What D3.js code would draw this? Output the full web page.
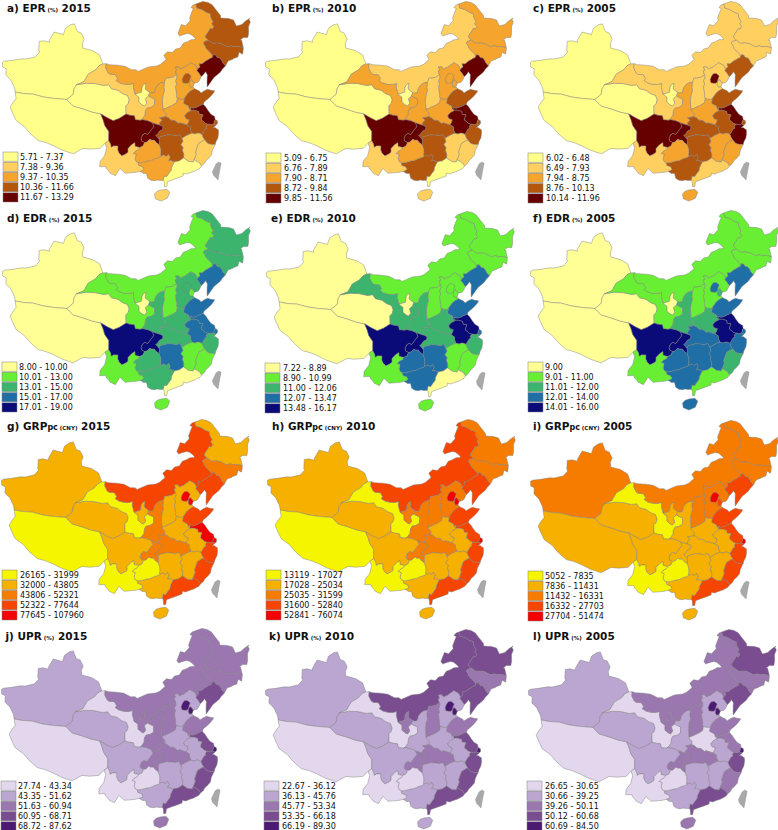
<!DOCTYPE html>
<html>
<head>
<meta charset="utf-8">
<script src="https://cdnjs.cloudflare.com/ajax/libs/d3/7.8.5/d3.min.js"></script>
<style>
  html, body { margin: 0; padding: 0; background: #fff; }
  text { font-family: "DejaVu Sans", sans-serif; fill: #111; }
</style>
</head>
<body>
<svg id="chart" width="778" height="830"></svg>
<script>
"use strict";

// province order used by every value array below
const provinces = ["XJ","XZ","QH","GS","NM","HL","JL","LN","HE","BJ","TJ","SX","SD","HA","SN","NX","JS","SH","ZJ","AH","JX","FJ","HB","HN","GD","GX","HI","CQ","SC","GZ","YN"];

// class (0-4) of each province
const epr2015 = [0,0,0,1,2,3,3,4,2,3,2,1,3,2,2,0,4,3,3,3,1,1,3,3,0,2,1,4,4,2,1];
const epr2010 = [0,0,0,2,1,2,2,4,2,2,2,1,3,2,2,0,4,3,3,4,1,1,3,3,0,3,1,4,4,2,1];
const epr2005 = [0,0,0,1,1,1,1,3,1,4,1,1,3,2,2,0,4,3,4,3,2,2,3,3,1,3,2,4,4,2,1];
const edr2015 = [0,0,0,1,1,2,2,3,2,2,1,1,3,2,2,0,3,3,2,3,1,1,2,3,0,2,1,4,4,2,1];
const edr2010 = [0,0,0,2,1,1,1,3,1,1,1,1,3,2,2,0,4,3,2,4,1,1,2,3,0,3,1,4,4,3,1];
const edr2005 = [0,0,0,1,1,1,1,3,1,3,2,1,3,2,2,0,4,3,3,4,3,2,3,3,1,3,3,4,4,3,1];
const grp2015 = [1,0,1,0,3,1,2,3,1,4,4,1,3,1,2,1,4,4,3,1,1,3,2,1,3,1,1,2,1,0,0];
const grp2010 = [1,0,1,0,3,2,2,3,2,4,4,2,3,1,2,2,3,4,3,1,1,3,2,1,3,1,1,2,1,0,0];
const grp2005 = [2,1,1,0,2,2,2,3,2,4,3,2,3,1,1,1,3,4,3,1,1,3,1,1,3,1,1,1,1,0,0];
const upr2015 = [1,0,1,0,2,2,2,3,1,4,4,2,2,1,2,2,3,4,3,1,1,3,2,1,3,1,2,2,1,0,0];
const upr2010 = [1,0,1,0,3,3,2,3,1,4,4,2,2,1,1,2,3,4,3,1,1,3,2,1,3,1,1,2,1,0,0];
const upr2005 = [1,0,1,0,2,3,2,3,1,4,4,2,2,0,1,2,2,4,3,1,1,2,2,1,3,1,2,2,1,0,0];

// legend labels
const eprLabels2015 = ["5.71 - 7.37","7.38 - 9.36","9.37 - 10.35","10.36 - 11.66","11.67 - 13.29"];
const eprLabels2010 = ["5.09 - 6.75","6.76 - 7.89","7.90 - 8.71","8.72 - 9.84","9.85 - 11.56"];
const eprLabels2005 = ["6.02 - 6.48","6.49 - 7.93","7.94 - 8.75","8.76 - 10.13","10.14 - 11.96"];
const edrLabels2015 = ["8.00 - 10.00","10.01 - 13.00","13.01 - 15.00","15.01 - 17.00","17.01 - 19.00"];
const edrLabels2010 = ["7.22 - 8.89","8.90 - 10.99","11.00 - 12.06","12.07 - 13.47","13.48 - 16.17"];
const edrLabels2005 = ["9.00","9.01 - 11.00","11.01 - 12.00","12.01 - 14.00","14.01 - 16.00"];
const grpLabels2015 = ["26165 - 31999","32000 - 43805","43806 - 52321","52322 - 77644","77645 - 107960"];
const grpLabels2010 = ["13119 - 17027","17028 - 25034","25035 - 31599","31600 - 52840","52841 - 76074"];
const grpLabels2005 = ["5052 - 7835","7836 - 11431","11432 - 16331","16332 - 27703","27704 - 51474"];
const uprLabels2015 = ["27.74 - 43.34","43.35 - 51.62","51.63 - 60.94","60.95 - 68.71","68.72 - 87.62"];
const uprLabels2010 = ["22.67 - 36.12","36.13 - 45.76","45.77 - 53.34","53.35 - 66.18","66.19 - 89.30"];
const uprLabels2005 = ["26.65 - 30.65","30.66 - 39.25","39.26 - 50.11","50.12 - 60.68","60.69 - 84.50"];

const eprColors = ["#ffff8a","#ffd060","#f5a42e","#b3570f","#660000"];
const edrColors = ["#ffff96","#68ee33","#3cb46e","#1f6fa6","#0a0a78"];
const grpColors = ["#f5f500","#f5b000","#f67c00","#f54500","#f50000"];
const uprColors = ["#e3d7ee","#baa6d1","#9b77b0","#7a4d90","#4d1a73"];

// shared province borders, lon/lat. "-name" in a ring walks the border backwards
const borders = {
  xj_out: [[96.4,42.7],[95.4,44.3],[93.5,44.95],[91,45.2],[90.7,46],[91,46.9],[90,47.9],[88.9,48.1],[87.8,49.4],[86.8,49.1],[85.7,48.3],[85.5,47.1],[83,47.2],[82.3,45.5],[82.5,45.2],[81,45.2],[79.9,44.9],[80.4,43.2],[80.7,43.1],[80,42],[78,41.2],[76.9,41],[75,40.3],[73.2,39.7],[72.9,39.4],[73.3,38.6],[74.2,38.5],[74.6,37.4],[76,36.8],[77.3,35.6],[77.7,34.9]],
  xj_xz: [[77.7,34.9],[79.5,35],[81.6,35.3],[84,35.2],[86.5,35.3],[89.2,35.5]],
  xj_qh: [[89.2,35.5],[90.4,36.6],[90.4,37.6],[90.8,38.4]],
  xj_gs: [[90.8,38.4],[92.4,39.1],[93.2,40.6],[94.8,41.5],[95.5,42.3],[96.4,42.7]],
  xz_out: [[77.7,34.9],[78.3,33.8],[77.9,33],[77.6,32],[78.5,31],[79.6,29.9],[81.5,29.2],[83,28.2],[84.9,27.2],[86.5,27.1],[88,26.8],[90,26.2],[92.2,25.8],[93.2,26.5],[94,27],[95.5,27],[97.4,27.3],[98.3,28.3]],
  xz_yn: [[98.3,28.3],[98.7,28.6],[99,28.8]],
  xz_sc: [[99,28.8],[98.9,30.5],[98,31.5],[97.5,32.6],[96.9,33.6]],
  xz_qh: [[96.9,33.6],[95,33.8],[93,34.2],[90.8,34.5],[89.2,35.5]],
  qh_sc: [[96.9,33.6],[98.3,33],[99.7,32.5],[101,33],[102.4,33.8]],
  qh_gs: [[102.4,33.8],[102.3,35.3],[102.8,35.7],[103,36.4],[102.6,37.2],[101.5,37.5],[100.4,38.1],[98.9,38.3],[98.2,39],[97,38.8],[95,39],[93,38.9],[90.8,38.4]],
  gs_out: [[97.2,42.8],[96.4,42.7]],
  gs_sc: [[105.5,32.7],[104.4,32.8],[104.2,33.5],[103.2,33.6],[102.4,33.8]],
  gs_sn: [[107.3,37.1],[108.7,36.5],[108.6,35.4],[107.8,35],[107,34.9],[106.6,34.4],[106.5,33.6],[105.9,32.9],[105.5,32.7]],
  gs_nx: [[104.3,37.45],[105.2,36.9],[105.2,36],[105.9,35.5],[106.4,35.3],[106.9,35.8],[106.6,36.6],[107.3,37.1]],
  gs_nm: [[97.2,42.8],[97.2,42],[97.9,41.1],[98.4,40.9],[99.6,40.9],[100.2,40.2],[99.9,39.8],[100.8,39.4],[102,39.2],[103,39.2],[104,39.4],[103.9,38.7],[104.2,37.8],[104.3,37.45]],
  nx_sn: [[107.3,37.1],[107.6,37.75]],
  nx_nm: [[104.3,37.45],[105,37.6],[105.8,37.8],[105.9,38.7],[106.3,39.2],[106.8,39.4],[106.6,38.4],[107,38.1],[107.6,37.75]],
  sn_nm: [[107.6,37.75],[108.1,37.6],[108.7,37.7],[109,38.5],[109.6,39.1],[110.3,39.4],[111.1,39.5]],
  sn_sx: [[110.4,34.6],[110.4,35.4],[110.4,36.2],[110.6,37.1],[111,38],[110.9,38.5],[111.1,39.5]],
  sc_sn: [[105.5,32.7],[106,32.8],[107,32.6],[107.3,32.5],[108,32.2]],
  cq_sn: [[108,32.2],[108.9,31.9],[109.6,31.7]],
  hb_sn: [[110.9,33.2],[110.1,33.1],[109.6,33.1],[110.1,32.6],[109.5,32.1],[109.6,31.7]],
  ha_sn: [[110.9,33.2],[111,33.8],[110.5,34.3],[110.4,34.6]],
  sc_yn: [[99,28.8],[99.4,28.2],[99.6,27.6],[100.1,27.9],[100.9,27.9],[100.9,27.2],[101.2,26.6],[101.8,26.1],[102.6,26.5],[103,26.8],[103,27.5],[103.7,28.2],[104.3,28.6],[104.4,27.9],[105.3,27.7]],
  sc_gz: [[105.3,27.7],[106,28],[106.3,28.6]],
  sc_cq: [[106.3,28.6],[105.7,28.9],[105.6,29.4],[105.9,30],[106.4,30.3],[107,30.1],[107.7,30.9],[108.3,31.5],[108,32.2]],
  cq_hb: [[109.6,31.7],[110.2,31.4],[110.1,30.9],[109.4,30.6],[108.9,30],[108.6,29.9],[109.3,29.1]],
  cq_hn: [[109.3,29.1],[109.3,28.6],[109.2,28.2]],
  cq_gz: [[109.2,28.2],[108.7,28.5],[108.3,29],[107.8,29],[107.4,29.2],[106.8,28.7],[106.3,28.6]],
  gz_hn: [[109.2,28.2],[109.5,27.4],[109.5,26.7],[109.4,26.2],[109.5,26]],
  gz_gx: [[109.5,26],[109.1,25.8],[108.3,25.6],[107.6,25.3],[106.9,25.2],[106.1,25],[105.5,24.9],[105,24.9]],
  gz_yn: [[105,24.9],[104.6,25.1],[104.4,25.6],[104.6,26.4],[104,26.6],[104.4,27],[105,27.3],[105.3,27.7]],
  yn_out: [[98.3,28.3],[98.7,27.5],[98.4,26],[97.6,24.9],[97.6,23.9],[98.8,24],[98.9,23.6],[99.3,23.3],[99.7,22.8],[100.7,22.4],[101.5,23.8],[102.5,22.9],[103.5,23],[104.6,23.1],[105.4,23.3]],
  yn_gx: [[105.4,23.3],[106.1,23.6],[105.9,24.1],[105.1,24.4],[105,24.9]],
  gx_out: [[105.4,23.3],[106,22.9],[106.6,22.9],[106.8,22],[107.4,21.6],[108,21.5],[108.6,21.6],[109.1,21.5],[109.7,21.5]],
  gx_gd: [[109.7,21.5],[109.9,22.3],[110.4,22.2],[110.7,22.6],[111.3,23.3],[111.4,23.8],[112,24.8]],
  gx_hn: [[109.5,26],[110,26.2],[110.6,25.9],[111,26.3],[111.3,25.7],[110.9,25.1],[111.4,25.1],[112,24.8]],
  hn_gd: [[112,24.8],[112.7,24.9],[113,24.9],[113.9,25.4]],
  hn_jx: [[113.9,25.4],[114,26.1],[113.8,26.9],[114,27.3],[113.6,27.9],[114.1,28.5],[113.9,29.05]],
  hb_hn: [[109.3,29.1],[109.5,29.6],[110.6,29.8],[111,29.9],[112,29.8],[112.9,29.6],[113.6,29.8],[113.9,29.05]],
  hb_jx: [[113.9,29.05],[114.9,29.5],[115.9,29.8],[116.1,29.8]],
  hb_ah: [[116.1,29.8],[115.9,30.4],[115.9,31],[115.3,31.4]],
  hb_ha: [[115.3,31.4],[114.5,31.7],[113.9,31.9],[113.5,31.8],[112.8,32.4],[112,32.5],[111.5,33],[110.9,33.2]],
  ha_sx: [[110.4,34.6],[111,34.7],[111.6,34.9],[112.6,35.2],[113.5,35.6],[113.6,35.8],[113.8,36.4]],
  ha_he: [[113.8,36.4],[114.2,36.2],[114.9,36.1],[115.3,36.1]],
  ha_sd: [[115.3,36.1],[115,35.4],[116,34.8],[116.1,34.4]],
  ha_ah: [[116.1,34.4],[116.5,33.9],[115.6,33.6],[115,33.1],[115.2,32.6],[115.9,32.3],[115.7,31.9],[115.3,31.4]],
  sx_nm: [[111.1,39.5],[111.3,39.7],[111.5,40.2],[112.3,40.2],[113.3,40.3],[114.1,40.7]],
  sx_he: [[114.1,40.7],[114.1,40.1],[113.7,39.6],[113.9,39],[113.6,38.6],[113.6,37.9],[113.7,37.1],[113.6,36.6],[113.8,36.4]],
  sd_he: [[117.9,37.8],[117,37.5],[116.4,37.2],[115.7,36.6],[115.3,36.2],[115.3,36.1]],
  he_c1: [[117.9,37.8],[117.6,38.2]],
  he_tj: [[117.6,38.2],[117,38.2],[116.8,38.7],[117,39.2],[117.3,39.5],[117.6,39.4],[117.8,39.1],[118,38.8]],
  tj_c: [[117.6,38.2],[117.8,38.5],[118,38.8]],
  he_c2: [[118,38.8],[118.9,38.9],[119.3,39.2],[119.8,39.8]],
  he_ln: [[119.8,39.8],[119.4,40.5],[119,41],[119.2,41.3]],
  he_nm: [[119.2,41.3],[118.9,42],[117.8,42.6],[117.4,42.4],[116.9,42.2],[116,41.8],[115.9,41.9],[115.3,41.6],[114.9,41.9],[114.8,42.1],[114,42.1],[114.3,41.5],[113.9,41.4],[114,40.9],[114.1,40.7]],
  sd_ah: [[116.1,34.4],[116.4,34.5]],
  sd_js: [[116.4,34.5],[117,34.3],[117.8,34.4],[118.4,34.6],[119.3,34.8]],
  sd_c: [[119.3,34.8],[119.6,35.2],[120.4,35.6],[121.3,36.1],[122,36.6],[122.3,36.9],[121.5,37.1],[120.8,37.4],[120,37.2],[119.2,36.9],[118.9,37.3],[117.9,37.8]],
  js_c: [[121.3,31.7],[121.3,32.3],[120.6,32.8],[120.1,33.6],[119.8,34.2],[119.3,34.8]],
  sh_js: [[120.9,31],[121.1,31.5],[121.3,31.7]],
  sh_c: [[121.3,31.7],[121.7,31.5],[121.7,31],[121.3,30.7]],
  zj_sh: [[121.3,30.7],[121,30.8],[120.9,31]],
  zj_js: [[120.9,31],[120.4,30.9],[119.6,31.1]],
  js_ah: [[116.4,34.5],[116.5,34],[117.3,33.9],[118.1,33.6],[118.1,33.1],[118.9,32.9],[118.6,32.5],[118.4,32],[118.9,31.6],[119.1,31.3],[119.6,31.1]],
  zj_ah: [[119.6,31.1],[119.2,30.7],[119.3,30.4],[118.9,30.3],[118.3,29.6],[118.1,29.4]],
  ah_jx: [[118.1,29.4],[117.4,29.7],[116.7,29.6],[116.1,29.8]],
  zj_jx: [[118.1,29.4],[118.2,28.9],[118.5,28.3]],
  zj_fj: [[118.5,28.3],[119,27.6],[119.7,27.3],[120.45,27.2]],
  zj_c: [[120.45,27.2],[120.7,27.7],[121.2,28.3],[121.5,29.1],[121.6,29.8],[121.3,30],[121,30.3],[120.6,30.3],[121.3,30.7]],
  jx_fj: [[118.5,28.3],[117.9,28.1],[117.2,27.8],[116.8,27.1],[116.4,26.3],[116.5,25.9],[116,25],[115.9,24.9]],
  jx_gd: [[115.9,24.9],[115.7,24.5],[114.8,24.7],[114.3,25.1],[113.9,25.4]],
  fj_gd: [[115.9,24.9],[116.5,24.5],[116.9,24.2],[117.2,23.6]],
  fj_c: [[120.45,27.2],[120,26.6],[119.7,26.2],[119.4,25.4],[118.7,24.8],[118.2,24.5],[117.8,24],[117.2,23.6]],
  gd_c: [[117.2,23.6],[116.8,23.2],[115.8,22.8],[114.9,22.6],[114.2,22.4],[113.6,22.6],[113.5,22.1],[112.5,21.8],[111.4,21.5],[110.5,21.2],[110.3,20.3],[109.9,20.3],[109.9,21.2],[109.7,21.5]],
  ln_c: [[119.8,39.8],[120.5,40.2],[121,40.6],[121.3,40],[121.1,39.3],[120.9,38.5],[120.8,37.8],[121.8,38.6],[122.7,39.3],[124.4,40.05],[125,40.5],[125.9,41]],
  ln_jl: [[125.9,41],[125.4,41.7],[125.3,42.1],[125,42.6],[124.4,42.8],[124.1,43.3],[123.6,43.4],[123.3,43]],
  ln_nm: [[119.2,41.3],[119.9,41.6],[119.8,42.2],[120.5,42.1],[121.4,42.5],[122.2,42.7],[122.4,42.8],[123.3,43]],
  jl_nm: [[123.3,43],[123.3,43.5],[122.6,44.3],[122.1,44.8],[122,45.3],[121.7,45.8],[122,46.1],[123.1,46.2]],
  jl_hl: [[123.1,46.2],[124,45.5],[125.2,45.4],[126.2,45.1],[127,44.6],[127.6,44.3],[128.4,44.4],[129,44.1],[129.8,44],[130.5,43.8],[131.2,43.5]],
  jl_out: [[125.9,41],[126.6,41.6],[126.9,41.8],[128,41.9],[128.1,42],[129.3,42.1],[129.9,42.9],[130.6,42.4],[130.9,42.9],[131.2,43.5]],
  hl_out: [[131.2,43.5],[131.3,44.9],[131,45],[131.9,45.3],[133,45.1],[133.5,45.8],[134,47],[134.8,47.7],[134.7,48.3],[135.08,48.45],[133.5,48.1],[132.5,47.7],[131,47.7],[130.7,48.9],[129.5,49.4],[127.5,49.8],[127.6,50.3],[126.9,51.3],[126,52.6],[125,53.2],[123.6,53.55],[122.3,53.4],[121.5,53.3]],
  hl_nm: [[121.5,53.3],[121.6,52.5],[122.9,52.1],[124,51.4],[125,51],[124.9,50.3],[125.3,49.4],[124.8,49.1],[125.2,48.5],[124.6,48.1],[124.2,48.3],[123.7,47.9],[122.6,47.1],[122.5,46.8],[123.1,46.2]],
  nm_out: [[121.5,53.3],[120.7,53.2],[120,52.8],[120.6,52.5],[120.1,52],[119.2,50.9],[119.2,50.3],[117.8,49.5],[116.7,49.8],[115.5,48.2],[115.9,47.7],[116.8,47.9],[118,48],[118.8,47.8],[119.8,47],[119.8,46.7],[118.7,46.8],[117.7,46.5],[116.6,46.3],[115.7,45.5],[114.5,45.4],[113.6,44.8],[112.4,45],[111.4,44.4],[111.9,43.6],[110.5,42.8],[109.5,42.5],[107.5,42.4],[105,41.6],[104.5,41.9],[103.4,41.9],[101.8,42.5],[100,42.65],[98,42.65],[97.2,42.8]]
};

// which borders close each province
const rings = {
  XJ: ["xj_out","xj_xz","xj_qh","xj_gs"],
  XZ: ["xz_out","xz_yn","xz_sc","xz_qh","-xj_xz"],
  QH: ["xj_qh","-qh_gs","-qh_sc","xz_qh"],
  GS: ["-xj_gs","-qh_gs","-gs_sc","-gs_sn","-gs_nx","-gs_nm","gs_out"],
  NM: ["nm_out","gs_nm","nx_nm","sn_nm","sx_nm","-he_nm","ln_nm","jl_nm","-hl_nm"],
  HL: ["jl_hl","hl_out","hl_nm"],
  JL: ["ln_jl","jl_nm","jl_hl","-jl_out"],
  LN: ["ln_c","ln_jl","-ln_nm","-he_ln"],
  HE: ["ha_he","-sd_he","he_c1","he_tj","he_c2","he_ln","he_nm","sx_he"],
  TJ: ["he_tj","-tj_c"],
  SX: ["sn_sx","sx_nm","sx_he","-ha_sx"],
  SD: ["ha_sd","sd_ah","sd_js","sd_c","sd_he"],
  HA: ["hb_ha","ha_sn","ha_sx","ha_he","ha_sd","ha_ah"],
  SN: ["gs_sn","sc_sn","cq_sn","-hb_sn","ha_sn","sn_sx","-sn_nm","-nx_sn"],
  NX: ["gs_nx","nx_sn","-nx_nm"],
  JS: ["sd_js","-js_c","-sh_js","zj_js","-js_ah"],
  SH: ["sh_js","sh_c","zj_sh"],
  ZJ: ["zj_ah","zj_jx","zj_fj","zj_c","zj_sh","zj_js"],
  AH: ["sd_ah","js_ah","zj_ah","ah_jx","hb_ah","-ha_ah"],
  JX: ["ah_jx","-hb_jx","-hn_jx","-jx_gd","-jx_fj","-zj_jx"],
  FJ: ["jx_fj","fj_gd","-fj_c","-zj_fj"],
  HB: ["hb_hn","hb_jx","hb_ah","hb_ha","hb_sn","cq_hb"],
  HN: ["gz_hn","gx_hn","hn_gd","hn_jx","-hb_hn","cq_hn"],
  GD: ["jx_gd","-hn_gd","-gx_gd","-gd_c","-fj_gd"],
  GX: ["gx_out","gx_gd","-gx_hn","gz_gx","-yn_gx"],
  CQ: ["sc_cq","cq_sn","cq_hb","cq_hn","cq_gz"],
  SC: ["-xz_sc","sc_yn","sc_gz","sc_cq","-sc_sn","gs_sc","-qh_sc"],
  GZ: ["sc_gz","-cq_gz","gz_hn","gz_gx","gz_yn"],
  YN: ["yn_out","yn_gx","gz_yn","-sc_yn","-xz_yn"]
};

// enclosed or island shapes with no shared border
const loose = {
  BJ: [[116,39],[115.4,39.1],[115.3,39.7],[115.7,40.3],[116.2,40.7],[116.9,40.7],[117.5,40.2],[117.1,39.6],[116.9,39.2],[116.5,38.95],[116,39]],
  HI: [[108,19],[108.1,18.1],[109.1,17.6],[110.3,18.1],[110.8,19.2],[110.3,19.8],[109.2,19.7],[108.5,19.5],[108,19]],
  TW: [[120.6,23.9],[121,23.6],[120.6,22.6],[119.9,20.6],[119.2,21.6],[119.1,22.3],[120,23.6],[120.6,23.9]]
};

function buildRing(names) {
  let pts = [];
  names.forEach(n => {
    let rev = n[0] === "-";
    let arc = borders[rev ? n.slice(1) : n];
    pts = pts.concat(rev ? arc.slice().reverse() : arc);
  });
  pts.push(pts[0]);
  return pts;
}

function feature(id) {
  let ring = loose[id] || buildRing(rings[id]);
  let f = {type:"Feature", id:id, geometry:{type:"Polygon", coordinates:[ring]}};
  if (d3.geoArea(f) > 2 * Math.PI) f.geometry.coordinates = [ring.slice().reverse()]; // winding
  return f;
}

// HE before BJ and TJ so the small ones sit on top
const drawOrder = provinces.slice().sort((a, b) => (a === "BJ" || a === "TJ" ? 1 : 0) - (b === "BJ" || b === "TJ" ? 1 : 0));
const features = drawOrder.map(feature);
const taiwan = feature("TW");

const xStretch = 1.05;
const projection = d3.geoConicEqualArea().parallels([25, 47]).rotate([-105, 0]).scale(309).translate([0, 0]);
const anchor = projection([122.8, 53.55]);
projection.translate([200 / xStretch - anchor[0], 2 - anchor[1]]);
const path = d3.geoPath(projection);

const panels = [
  {tag:"a)", name:"EPR", unit:"(%)", year:"2015", vals:epr2015, labels:eprLabels2015, colors:eprColors, dx:0, dy:0, tx:7, ty:12, lx:3, ly:156, ltx:20},
  {tag:"b)", name:"EPR", unit:"(%)", year:"2010", vals:epr2010, labels:eprLabels2010, colors:eprColors, dx:263, dy:0, tx:272, ty:12, lx:266, ly:157, ltx:284},
  {tag:"c)", name:"EPR", unit:"(%)", year:"2005", vals:epr2005, labels:eprLabels2005, colors:eprColors, dx:528, dy:0, tx:533, ty:12, lx:528, ly:157, ltx:546},
  {tag:"d)", name:"EDR", unit:"(%)", year:"2015", vals:edr2015, labels:edrLabels2015, colors:edrColors, dx:0, dy:209, tx:7, ty:222, lx:2, ly:366, ltx:19},
  {tag:"e)", name:"EDR", unit:"(%)", year:"2010", vals:edr2010, labels:edrLabels2010, colors:edrColors, dx:264, dy:210, tx:271, ty:222, lx:265, ly:367, ltx:283},
  {tag:"f)", name:"EDR", unit:"(%)", year:"2005", vals:edr2005, labels:edrLabels2005, colors:edrColors, dx:528, dy:209, tx:533, ty:222, lx:528, ly:366, ltx:545},
  {tag:"g)", name:"GRP", sub:"pc", unit:"(CNY)", year:"2015", vals:grp2015, labels:grpLabels2015, colors:grpColors, dx:-1, dy:418, tx:7, ty:430, lx:2, ly:574, ltx:20},
  {tag:"h)", name:"GRP", sub:"pc", unit:"(CNY)", year:"2010", vals:grp2010, labels:grpLabels2010, colors:grpColors, dx:265, dy:418, tx:272, ty:430, lx:266, ly:574, ltx:284},
  {tag:"i)", name:"GRP", sub:"pc", unit:"(CNY)", year:"2005", vals:grp2005, labels:grpLabels2005, colors:grpColors, dx:528, dy:419, tx:533, ty:430, lx:528, ly:575, ltx:545},
  {tag:"j)", name:"UPR", unit:"(%)", year:"2015", vals:upr2015, labels:uprLabels2015, colors:uprColors, dx:-1, dy:627, tx:5.5, ty:640, lx:1, ly:785, ltx:18},
  {tag:"k)", name:"UPR", unit:"(%)", year:"2010", vals:upr2010, labels:uprLabels2010, colors:uprColors, dx:263, dy:628, tx:269, ty:640, lx:264, ly:785, ltx:282},
  {tag:"l)", name:"UPR", unit:"(%)", year:"2005", vals:upr2005, labels:uprLabels2005, colors:uprColors, dx:526, dy:628, tx:533, ty:640, lx:527, ly:785, ltx:545}
];

const svg = d3.select("#chart");

panels.forEach(p => {
  let colour = d3.scaleOrdinal().domain(d3.range(5)).range(p.colors);
  let valueOf = id => p.vals[provinces.indexOf(id)];

  let map = svg.append("g").attr("transform", `translate(${p.dx},${p.dy}) scale(${xStretch},1)`);
  map.selectAll("path.prov").data(features).join("path")
    .attr("class", "prov")
    .attr("d", path)
    .attr("fill", d => colour(valueOf(d.id)))
    .attr("stroke", "#7f7f7f")
    .attr("stroke-width", 0.45)
    .attr("stroke-linejoin", "round");
  map.append("path").datum(taiwan)
    .attr("d", path)
    .attr("fill", "#a9a9a9")
    .attr("stroke", "#8f8f8f")
    .attr("stroke-width", 0.4);

  // title
  let title = svg.append("text").attr("x", p.tx).attr("y", p.ty).attr("font-weight", "bold").attr("font-size", 10.5);
  title.append("tspan").text(`${p.tag} ${p.name}`);
  if (p.sub) title.append("tspan").attr("font-size", 8).text(p.sub);
  title.append("tspan").attr("font-size", 5.5).text(` ${p.unit}`);
  title.append("tspan").text(` ${p.year}`);

  // legend
  let rowY = d3.scaleBand().domain(d3.range(5)).range([p.ly - 4, p.ly + 46]).paddingInner(0.1);
  let legend = svg.append("g");
  legend.selectAll("rect").data(p.labels).join("rect")
    .attr("x", p.lx).attr("y", (d, i) => rowY(i))
    .attr("width", 15).attr("height", rowY.bandwidth())
    .attr("fill", (d, i) => colour(i))
    .attr("stroke", "#7f7f7f").attr("stroke-width", 0.5);
  legend.selectAll("text").data(p.labels).join("text")
    .attr("x", p.ltx).attr("y", (d, i) => rowY(i) + rowY.bandwidth() / 2 + 3)
    .attr("font-size", 8).text(d => d);
});
</script>
</body>
</html>
